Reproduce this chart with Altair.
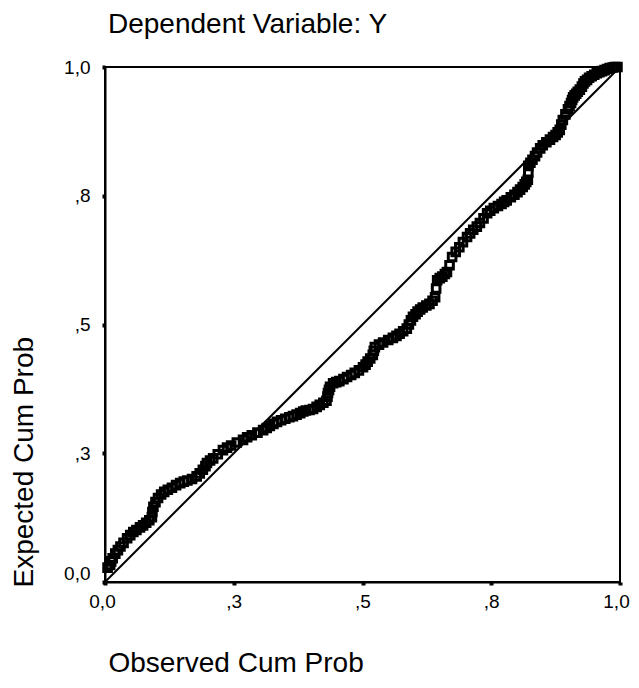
import altair as alt
import pandas as pd

# Observed cumulative probability (x) and expected cumulative probability (y)
obs_cum = [0.005, 0.010, 0.012, 0.015, 0.020, 0.025, 0.030, 0.036, 0.043, 0.049,
           0.055, 0.061, 0.068, 0.074, 0.080, 0.086, 0.091, 0.092, 0.094, 0.098,
           0.103, 0.109, 0.115, 0.122, 0.130, 0.138, 0.146, 0.153, 0.160, 0.169,
           0.178, 0.184, 0.190, 0.195, 0.198, 0.204, 0.210, 0.219, 0.229, 0.237,
           0.245, 0.256, 0.268, 0.276, 0.285, 0.296, 0.307, 0.314, 0.320, 0.327,
           0.334, 0.342, 0.350, 0.358, 0.365, 0.372, 0.379, 0.385, 0.390, 0.397,
           0.404, 0.411, 0.417, 0.424, 0.430, 0.432, 0.433, 0.435, 0.437, 0.443,
           0.449, 0.455, 0.463, 0.470, 0.478, 0.485, 0.493, 0.501, 0.506, 0.510,
           0.515, 0.520, 0.522, 0.524, 0.532, 0.540, 0.550, 0.559, 0.566, 0.572,
           0.579, 0.586, 0.590, 0.594, 0.598, 0.603, 0.607, 0.612, 0.617, 0.624,
           0.630, 0.636, 0.641, 0.643, 0.645, 0.650, 0.655, 0.660, 0.664, 0.669,
           0.674, 0.681, 0.688, 0.695, 0.703, 0.709, 0.715, 0.722, 0.728, 0.735,
           0.742, 0.748, 0.755, 0.763, 0.770, 0.775, 0.780, 0.788, 0.795, 0.801,
           0.806, 0.811, 0.815, 0.818, 0.821, 0.822, 0.822, 0.826, 0.830, 0.835,
           0.839, 0.845, 0.850, 0.857, 0.864, 0.870, 0.875, 0.879, 0.883, 0.886,
           0.889, 0.894, 0.899, 0.902, 0.905, 0.907, 0.909, 0.912, 0.915, 0.918,
           0.922, 0.926, 0.929, 0.932, 0.936, 0.940, 0.945, 0.950, 0.955, 0.960,
           0.965, 0.970, 0.975, 0.980, 0.986, 0.990, 0.995]
exp_cum = [0.028, 0.033, 0.040, 0.046, 0.055, 0.062, 0.069, 0.076, 0.085, 0.091,
           0.097, 0.101, 0.106, 0.110, 0.115, 0.120, 0.126, 0.136, 0.146, 0.155,
           0.163, 0.170, 0.175, 0.179, 0.183, 0.188, 0.192, 0.195, 0.197, 0.200,
           0.205, 0.211, 0.218, 0.225, 0.231, 0.236, 0.240, 0.248, 0.256, 0.261,
           0.265, 0.271, 0.276, 0.281, 0.285, 0.290, 0.295, 0.299, 0.303, 0.307,
           0.311, 0.314, 0.317, 0.320, 0.322, 0.325, 0.328, 0.331, 0.333, 0.334,
           0.336, 0.340, 0.344, 0.348, 0.352, 0.360, 0.367, 0.373, 0.379, 0.386,
           0.388, 0.390, 0.394, 0.398, 0.402, 0.406, 0.411, 0.417, 0.422, 0.428,
           0.434, 0.441, 0.449, 0.456, 0.461, 0.465, 0.470, 0.474, 0.478, 0.482,
           0.487, 0.492, 0.500, 0.508, 0.515, 0.520, 0.525, 0.529, 0.533, 0.537,
           0.540, 0.546, 0.553, 0.570, 0.586, 0.590, 0.593, 0.598, 0.602, 0.615,
           0.631, 0.641, 0.650, 0.660, 0.670, 0.677, 0.684, 0.690, 0.697, 0.706,
           0.716, 0.721, 0.726, 0.730, 0.734, 0.738, 0.741, 0.747, 0.752, 0.757,
           0.762, 0.767, 0.772, 0.777, 0.781, 0.795, 0.808, 0.814, 0.820, 0.827,
           0.834, 0.842, 0.848, 0.854, 0.859, 0.864, 0.868, 0.873, 0.878, 0.888,
           0.897, 0.908, 0.918, 0.924, 0.930, 0.936, 0.941, 0.945, 0.948, 0.952,
           0.956, 0.962, 0.968, 0.972, 0.975, 0.979, 0.982, 0.985, 0.988, 0.990,
           0.992, 0.994, 0.996, 0.998, 0.999, 1.000, 1.000]

diag_x = [0.0, 1.0]
diag_y = [0.0, 1.0]

tick_values = [0.0, 0.25, 0.5, 0.75, 1.0]
tick_labels = ["0,0", ",3", ",5", ",8", "1,0"]

pts = pd.DataFrame({"obs": obs_cum, "exp": exp_cum})
diag = pd.DataFrame({"obs": diag_x, "exp": diag_y})

label_expr = " : ".join(
    f"datum.value == {v} ? '{l}'" for v, l in zip(tick_values[:-1], tick_labels[:-1])
) + f" : '{tick_labels[-1]}'"

FONT = "Liberation Sans"

x_scale = alt.Scale(domain=[0, 1], nice=False, zero=False)
y_scale = alt.Scale(domain=[0, 1], nice=False, zero=False)

x_label_offset = {
    "condition": [
        {"test": "datum.value == 1", "value": -4},
        {"test": "datum.value == 0", "value": -3},
    ],
    "value": 0,
}
y_label_offset = {"condition": {"test": "datum.value == 0", "value": -9}, "value": 0}

x_axis = alt.Axis(
    values=tick_values, labelExpr=label_expr, grid=False,
    title="Observed Cum Prob", titleFontSize=28, titleFontWeight="normal",
    titleFont=FONT, titleColor="black", titleAlign="left", titleBaseline="middle",
    titleX=3, titleY=81, titleAnchor="start",
    labelFont=FONT, labelFontSize=19, labelColor="black", labelPadding=7,
    labelFlush=False, labelOverlap=False, labelOffset=x_label_offset,
    domainColor="black", domainWidth=2, tickColor="black", tickSize=3, tickWidth=4,
)
y_axis = alt.Axis(
    values=tick_values, labelExpr=label_expr, grid=False,
    title="Expected Cum Prob", titleFontSize=28, titleFontWeight="normal",
    titleFont=FONT, titleColor="black", titleAlign="left", titleBaseline="middle",
    titleAngle=270, titleX=-81, titleY=520, titleAnchor="start",
    labelFont=FONT, labelFontSize=19, labelColor="black", labelPadding=12,
    labelFlush=False, labelOverlap=False, labelOffset=y_label_offset,
    domainColor="black", domainWidth=2, tickColor="black", tickSize=3, tickWidth=4,
)

points = alt.Chart(pts).mark_point(
    shape="square", filled=False, color="black", strokeWidth=3, size=58, opacity=1
).encode(
    x=alt.X("obs:Q", scale=x_scale, axis=x_axis),
    y=alt.Y("exp:Q", scale=y_scale, axis=y_axis),
)

line = alt.Chart(diag).mark_line(color="black", strokeWidth=2).encode(
    x=alt.X("obs:Q", scale=x_scale),
    y=alt.Y("exp:Q", scale=y_scale),
)

chart = alt.layer(line, points).properties(
    width=515, height=515,
    autosize="none",
    padding={"left": 97, "top": 59, "right": 11, "bottom": 98},
    title=alt.TitleParams(
        "Dependent Variable: Y", anchor="start", frame="group", font=FONT,
        fontSize=28, fontWeight="normal", color="black", dx=3, offset=18,
    ),
).configure(background="white").configure_view(stroke="black", strokeWidth=2)

chart.save("out.html", embed_options={"renderer": "svg", "actions": False})
